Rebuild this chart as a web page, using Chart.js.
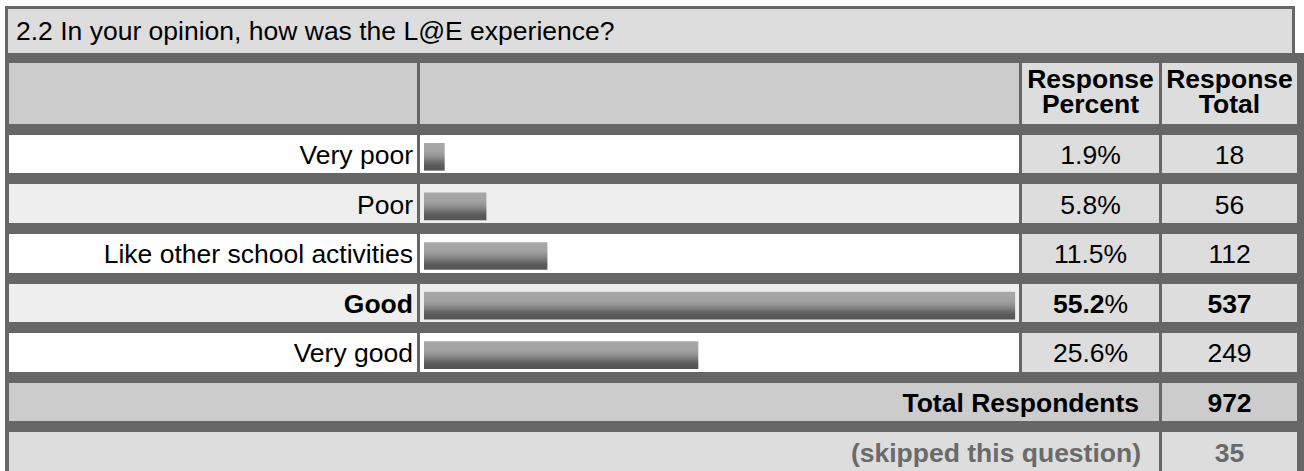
<!DOCTYPE html>
<html>
<head>
<meta charset="utf-8">
<title>2.2 In your opinion, how was the L@E experience?</title>
<script src="https://cdn.jsdelivr.net/npm/chart.js"></script>
<style>
  html, body { margin: 0; padding: 0; background: #fff; }
  body {
    width: 1304px; height: 471px; overflow: hidden; position: relative;
    font-family: "Liberation Sans", Arial, sans-serif; font-size: 26.5px; color: #000;
  }
  .cell {
    position: absolute; box-sizing: border-box; white-space: nowrap;
    display: flex; align-items: center;
  }
  #title {
    position: absolute; box-sizing: border-box;
    left: 5px; top: 6px; width: 1290px; height: 50px;
    background: #ddd; border: 3px solid #666; border-bottom: 0;
    padding-left: 8px; line-height: 44px; white-space: nowrap;
  }
  #frame { position: absolute; left: 5px; top: 53px; width: 1310px; height: 430px; background: #666; }
  #chartBox { position: absolute; left: 420px; top: 132px; width: 599px; height: 248px; z-index: 5; }
</style>
</head>
<body>
<div id="title">2.2 In your opinion, how was the L@E experience?</div>
<div id="frame"></div>
<div id="chartBox"><canvas id="chartExperience" width="599" height="248"></canvas></div>

<script>
const answerChoices = ['Very poor', 'Poor', 'Like other school activities', 'Good', 'Very good'];
const responsePercent = [1.9, 5.8, 11.5, 55.2, 25.6];
const responseTotal = [18, 56, 112, 537, 249];
const totalRespondents = 972;
const skippedQuestion = 35;

// column edges in page pixels: label, bar, percent, total
const cols = { label: [9, 417], bar: [420, 1019], pct: [1022, 1159], tot: [1162, 1297] };
const rowTop = i => 134.8 + i * 49.6;
const rowHeight = 38.5;

const addCell = (x0, x1, y0, y1, bg, html, style) => {
  const el = document.createElement('div');
  el.className = 'cell';
  el.style.left = x0 + 'px';
  el.style.top = y0 + 'px';
  el.style.width = (x1 - x0) + 'px';
  el.style.height = (y1 - y0) + 'px';
  el.style.background = bg;
  el.innerHTML = html || '';
  Object.assign(el.style, style || {});
  document.body.appendChild(el);
  return el;
};

const drawTable = () => {
  const centered = { justifyContent: 'center', textAlign: 'center' };

  // header
  addCell(cols.label[0], cols.label[1], 63, 124, '#ccc');
  addCell(cols.bar[0], cols.bar[1], 63, 124, '#ccc');
  addCell(cols.pct[0], cols.pct[1], 63, 124, '#ddd', 'Response<br>Percent',
    Object.assign({ fontWeight: 'bold', lineHeight: '25px', paddingBottom: '3px' }, centered));
  addCell(cols.tot[0], cols.tot[1], 63, 124, '#ddd', 'Response<br>Total',
    Object.assign({ fontWeight: 'bold', lineHeight: '25px', paddingBottom: '3px' }, centered));

  const top = Math.max(...responseTotal);
  answerChoices.forEach((choice, i) => {
    const y0 = rowTop(i);
    const y1 = y0 + rowHeight;
    const bg = i % 2 === 0 ? '#fff' : '#eee';
    const strong = responseTotal[i] === top;
    const weight = strong ? 'bold' : 'normal';
    addCell(cols.label[0], cols.label[1], y0, y1, bg, choice,
      { justifyContent: 'flex-end', paddingRight: '4px', paddingTop: '3px', fontWeight: weight });
    addCell(cols.bar[0], cols.bar[1], y0, y1, bg);
    const pctText = strong ? '<b>' + responsePercent[i].toFixed(1) + '</b>%' : responsePercent[i].toFixed(1) + '%';
    addCell(cols.pct[0], cols.pct[1], y0, y1, '#ddd', pctText, Object.assign({ paddingTop: '3px' }, centered));
    addCell(cols.tot[0], cols.tot[1], y0, y1, '#ddd', String(responseTotal[i]),
      Object.assign({ paddingTop: '3px', fontWeight: weight }, centered));
  });

  const yT = rowTop(answerChoices.length);
  addCell(cols.label[0], cols.pct[1], yT, yT + rowHeight, '#ccc', 'Total Respondents',
    { justifyContent: 'flex-end', paddingRight: '20px', paddingTop: '3px', fontWeight: 'bold' });
  addCell(cols.tot[0], cols.tot[1], yT, yT + rowHeight, '#ccc', String(totalRespondents),
    Object.assign({ paddingTop: '3px', fontWeight: 'bold' }, centered));

  const yS = rowTop(answerChoices.length + 1);
  addCell(cols.label[0], cols.pct[1], yS, yS + rowHeight, '#ddd', '(skipped this question)',
    { justifyContent: 'flex-end', paddingRight: '18px', paddingTop: '3px', fontWeight: 'bold', color: '#6a6a6a' });
  addCell(cols.tot[0], cols.tot[1], yS, yS + rowHeight, '#ddd', String(skippedQuestion),
    Object.assign({ paddingTop: '3px', fontWeight: 'bold', color: '#6a6a6a' }, centered));
};

const barThickness = 27;

// banded grey shading, light on top, dark at the bottom of each bar
const barShade = (context) => {
  const chart = context.chart;
  const yScale = chart.scales && chart.scales.y;
  if (!yScale || context.dataIndex === undefined) return '#888';
  const yc = yScale.getPixelForValue(context.dataIndex);
  if (!Number.isFinite(yc)) return '#888';
  const g = chart.ctx.createLinearGradient(0, yc - barThickness / 2, 0, yc + barThickness / 2);
  g.addColorStop(0, '#a8a8a8');
  g.addColorStop(0.3, '#a3a3a3');
  g.addColorStop(0.42, '#999');
  g.addColorStop(0.52, '#8c8c8c');
  g.addColorStop(0.62, '#7b7b7b');
  g.addColorStop(0.72, '#696969');
  g.addColorStop(0.82, '#5a5a5a');
  g.addColorStop(1, '#555');
  return g;
};

const drawBars = () => {
  const context = document.getElementById('chartExperience').getContext('2d');
  const chart = new Chart(context, {
    type: 'bar',
    data: {
      labels: answerChoices,
      datasets: [{
        label: 'Response Percent',
        data: responsePercent,
        backgroundColor: barShade,
        borderWidth: 0,
        barThickness: barThickness
      }]
    },
    options: {
      indexAxis: 'y',
      responsive: false,
      animation: false,
      devicePixelRatio: 1,
      layout: { padding: { left: 4, right: 1, top: 0, bottom: 0 } },
      plugins: { legend: { display: false }, tooltip: { enabled: false } },
      scales: {
        x: { display: false, min: 0, max: 55.5 },
        y: { display: false, offset: true }
      }
    }
  });
  chart.update('none');
};

drawTable();
drawBars();
</script>
</body>
</html>
